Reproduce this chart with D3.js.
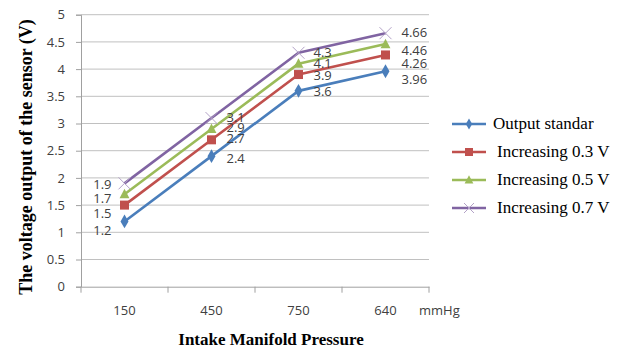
<!DOCTYPE html>
<html><head><meta charset="utf-8">
<script src="https://cdn.jsdelivr.net/npm/d3@7"></script>
<style>body{margin:0;background:#fff}svg{display:block}</style>
</head><body>
<svg id="c" width="624" height="351"></svg>
<script>
const categories = ["150", "450", "750", "640"];
const seriesNames = ["Output standar", "Increasing 0.3 V", "Increasing 0.5 V", "Increasing 0.7 V"];
const outputStandar = [1.2, 2.4, 3.6, 3.96];
const increasing03 = [1.5, 2.7, 3.9, 4.26];
const increasing05 = [1.7, 2.9, 4.1, 4.46];
const increasing07 = [1.9, 3.1, 4.3, 4.66];
const yTicks = [0, 0.5, 1, 1.5, 2, 2.5, 3, 3.5, 4, 4.5, 5];
const yTickLabels = ["0", "0.5", "1", "1.5", "2", "2.5", "3", "3.5", "4", "4.5", "5"];

// styling
const colors = ["#4A7EBB", "#C0504D", "#9BBB59", "#8064A2"];
const markers = ["diamond", "square", "triangle", "cross"];
// vertical nudges of data labels (px), per series per category
const labelNudge = [[8.6, 2, 1, 7.7], [8, -1, 0.5, 8], [4, -1, -0.5, 6], [1, -1, 0, -1]];

const allSeries = [outputStandar, increasing03, increasing05, increasing07];
const svg = d3.select("#c");
const L = 81, R = 429, T = 14.7, B = 286.7;
const x = d3.scaleBand().domain(categories).range([L, R]);
const y = d3.scaleLinear().domain([0, 5]).range([B, T]);
const cx = c => x(c) + x.bandwidth() / 2;

// gridlines
svg.append("g").selectAll("line").data(yTicks.filter(t => t > 0)).join("line")
  .attr("x1", L).attr("x2", R).attr("y1", d => y(d)).attr("y2", d => y(d))
  .attr("stroke", "#c0c0c0").attr("stroke-width", 1);

// y axis
const ya = svg.append("g").attr("transform", `translate(${L},0)`)
  .call(d3.axisLeft(y).tickValues(yTicks).tickFormat((d, i) => yTickLabels[i]).tickSize(5).tickPadding(11));
ya.select(".domain").attr("stroke", "#a0a0a0");
ya.selectAll(".tick line").attr("stroke", "#a0a0a0");
ya.selectAll("text").attr("font-family", "Open Sans, sans-serif").attr("font-size", 13).attr("fill", "#404040");

// x axis
const xa = svg.append("g").attr("transform", `translate(0,${B})`)
  .call(d3.axisBottom(x).tickSize(0).tickPadding(19));
xa.select(".domain").attr("stroke", "#a0a0a0");
xa.selectAll("text").attr("font-family", "Open Sans, sans-serif").attr("font-size", 13).attr("fill", "#404040");
xa.selectAll(".edge").data([L].concat(categories.map(c => x(c) + x.bandwidth()))).join("line")
  .attr("class", "edge").attr("x1", d => d).attr("x2", d => d).attr("y1", 0).attr("y2", 6)
  .attr("stroke", "#a0a0a0");
svg.append("text").attr("x", 419).attr("y", 315).text("mmHg")
  .attr("font-family", "Open Sans, sans-serif").attr("font-size", 13).attr("fill", "#404040");

// axis titles
svg.append("text").attr("x", 271).attr("y", 345).attr("text-anchor", "middle")
  .attr("font-family", "Liberation Serif, serif").attr("font-weight", "bold").attr("font-size", 17)
  .text("Intake Manifold Pressure");
svg.append("text").attr("transform", "translate(32,157) rotate(-90)").attr("text-anchor", "middle")
  .attr("font-family", "Liberation Serif, serif").attr("font-weight", "bold").attr("font-size", 18)
  .text("The voltage output of the sensor (V)");

function drawMarker(g, type, color, size) {
  if (type === "diamond") {
    g.append("path").attr("d", d3.symbol(d3.symbolDiamond, size * size * 0.55)()).attr("fill", color);
  } else if (type === "square") {
    g.append("rect").attr("x", -size / 2).attr("y", -size / 2).attr("width", size).attr("height", size).attr("fill", color);
  } else if (type === "triangle") {
    g.append("path").attr("d", `M0,${-size * 0.6}L${size * 0.55},${size * 0.45}L${-size * 0.55},${size * 0.45}Z`).attr("fill", color);
  } else {
    const h = size / 2;
    g.append("path").attr("d", `M${-h},${-h}L${h},${h}M${-h},${h}L${h},${-h}`)
      .attr("stroke", "#b3a2c7").attr("stroke-width", 1).attr("fill", "none");
  }
}

const line = d3.line().x((d, i) => cx(categories[i])).y(d => y(d));
allSeries.forEach((vals, s) => {
  svg.append("path").datum(vals).attr("d", line).attr("fill", "none")
    .attr("stroke", colors[s]).attr("stroke-width", 2.6).attr("stroke-linejoin", "round");
  vals.forEach((v, i) => {
    const g = svg.append("g").attr("transform", `translate(${cx(categories[i])},${y(v)})`);
    drawMarker(g, markers[s], colors[s], s === 3 ? 12 : (s === 0 ? 10 : 9));
  });
});

// data labels
allSeries.forEach((vals, s) => {
  vals.forEach((v, i) => {
    const left = i === 0;
    svg.append("text")
      .attr("x", cx(categories[i]) + (left ? -13 : 15 + (i === 3 ? 1 : 0)))
      .attr("y", y(v) + labelNudge[s][i])
      .attr("dy", "0.35em")
      .attr("text-anchor", left ? "end" : "start")
      .attr("font-family", "Open Sans, sans-serif").attr("font-size", 13).attr("fill", "#404040")
      .text(String(v));
  });
});

// legend
const lg = svg.append("g");
seriesNames.forEach((name, s) => {
  const yy = 124 + s * 28;
  lg.append("line").attr("x1", 452).attr("x2", 486).attr("y1", yy).attr("y2", yy)
    .attr("stroke", colors[s]).attr("stroke-width", 2.6);
  const g = lg.append("g").attr("transform", `translate(469,${yy})`);
  drawMarker(g, markers[s], colors[s], s === 3 ? 10 : 8);
  lg.append("text").attr("x", s === 0 ? 493 : 497).attr("y", yy).attr("dy", "0.32em")
    .attr("font-family", "Liberation Serif, serif").attr("font-size", 17).attr("fill", "#000")
    .text(name);
});
</script>
</body></html>
